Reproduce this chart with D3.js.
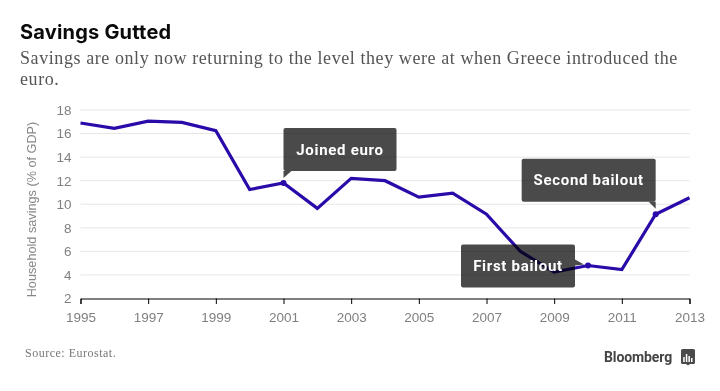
<!DOCTYPE html>
<html>
<head>
<meta charset="utf-8">
<script src="https://cdn.jsdelivr.net/npm/d3@7"></script>
<style>
  html, body { margin: 0; padding: 0; background: #fff; }
  svg { display: block; }
</style>
</head>
<body>
<div id="d3-container"></div>
<script>
const years = [1995, 1996, 1997, 1998, 1999, 2000, 2001, 2002, 2003, 2004, 2005, 2006, 2007, 2008, 2009, 2010, 2011, 2012, 2013];
const savings = [16.9, 16.45, 17.05, 16.95, 16.25, 11.25, 11.8, 9.65, 12.2, 12.0, 10.6, 10.95, 9.15, 6.0, 4.25, 4.8, 4.45, 9.15, 10.55];
const yTicks = [2, 4, 6, 8, 10, 12, 14, 16, 18];
const xTicks = [1995, 1997, 1999, 2001, 2003, 2005, 2007, 2009, 2011, 2013];
const noteLabels = ["Joined euro", "First bailout", "Second bailout"];
const noteYears = [2001, 2010, 2012];

const width = 720;
const height = 391;
const margin = { top: 110, bottom: 92.5, left: 80.5, right: 30.5 };

const sans = "Roboto, sans-serif";
const serif = "'Liberation Serif', serif";
const axisFont = "'Liberation Sans', Arial, sans-serif";

const svg = d3.select('#d3-container')
  .append('svg')
  .attr('width', width)
  .attr('height', height)
  .attr('viewBox', [0, 0, width, height]);

const x = d3.scaleLinear()
  .domain([1995, 2013])
  .range([margin.left, width - margin.right]);

const y = d3.scaleLinear()
  .domain([2, 18])
  .range([height - margin.bottom, margin.top]);

// headline
svg.append('text')
  .attr('x', 20).attr('y', 39)
  .attr('font-family', "Inter, sans-serif").attr('font-weight', 700)
  .attr('font-size', 20).attr('letter-spacing', 0.2)
  .attr('fill', '#0a0a0a')
  .text('Savings Gutted');

svg.selectAll('text.sub')
  .data(['Savings are only now returning to the level they were at when Greece introduced the', 'euro.'])
  .join('text')
  .attr('class', 'sub')
  .attr('x', 20)
  .attr('y', (d, i) => 64 + i * 20.5)
  .attr('font-family', serif).attr('font-size', 18)
  .attr('letter-spacing', 0.58)
  .attr('fill', '#555')
  .text(d => d);

// grid
svg.append('g')
  .selectAll('line')
  .data(yTicks.filter(d => d > 2))
  .join('line')
  .attr('x1', margin.left)
  .attr('x2', width - margin.right)
  .attr('y1', d => y(d))
  .attr('y2', d => y(d))
  .attr('stroke', '#e6e6e6')
  .attr('stroke-width', 1);

// axes
function yAxis(g) {
  g.attr('transform', `translate(${margin.left}, 0)`)
    .call(d3.axisLeft(y).tickValues(yTicks).tickSize(0).tickPadding(9))
    .attr('font-size', 13.5)
    .attr('font-family', axisFont)
    .call(g => g.select('.domain').remove())
    .selectAll('text').attr('fill', '#808080');
}

function xAxis(g) {
  g.attr('transform', `translate(0,${height - margin.bottom})`)
    .call(d3.axisBottom(x).tickValues(xTicks).tickFormat(d3.format('d')).tickSize(5.5).tickSizeOuter(5.5).tickPadding(8))
    .attr('font-size', 13.5)
    .attr('font-family', axisFont)
    .call(g => g.selectAll('.domain, line').attr('stroke', '#000'))
    .selectAll('text').attr('fill', '#808080');
}

svg.append('g').call(yAxis);
svg.append('g').call(xAxis);

svg.append('text')
  .attr('transform', `translate(36,209.5) rotate(-90)`)
  .attr('text-anchor', 'middle')
  .attr('font-family', axisFont).attr('font-size', 12.7)
  .attr('fill', '#888')
  .text('Household savings (% of GDP)');

// line
const line = d3.line()
  .x((d, i) => x(years[i]))
  .y(d => y(d));

svg.append('path')
  .datum(savings)
  .attr('fill', 'none')
  .attr('stroke', '#2a0aa8')
  .attr('stroke-width', 3.2)
  .attr('stroke-linejoin', 'miter')
  .attr('d', line);

svg.append('g')
  .selectAll('circle')
  .data(noteYears)
  .join('circle')
  .attr('cx', d => x(d))
  .attr('cy', d => y(savings[years.indexOf(d)]))
  .attr('r', 3)
  .attr('fill', '#2a0aa8');

// callouts, offsets from the marked point
const boxW = [113, 114, 134];
const boxH = 43;
const boxDx = [0, -127, -134];
const boxDy = [-55, -21, -55.5];
const tails = [
  (l, t, w, h) => `M${l},${t + h}L${l + 8},${t + h}L${l},${t + h + 7}Z`,
  (l, t, w, h) => `M${l + w},${t + 15}L${l + w + 9},${t + 20}L${l + w},${t + 21}Z`,
  (l, t, w, h) => `M${l + w},${t + h}L${l + w - 7},${t + h}L${l + w},${t + h + 7}Z`
];

noteLabels.forEach((label, i) => {
  const px = x(noteYears[i]);
  const py = y(savings[years.indexOf(noteYears[i])]);
  const left = px + boxDx[i];
  const top = py + boxDy[i];
  const g = svg.append('g');
  g.append('path')
    .attr('d', tails[i](left, top, boxW[i], boxH))
    .attr('fill', '#4a4a4a');
  g.append('rect')
    .attr('x', left).attr('y', top)
    .attr('width', boxW[i]).attr('height', boxH)
    .attr('rx', 2)
    .attr('fill', '#4a4a4a')
    .style('mix-blend-mode', 'multiply');
  g.append('text')
    .attr('x', left + boxW[i] / 2).attr('y', top + 26.5)
    .attr('text-anchor', 'middle')
    .attr('font-family', sans).attr('font-weight', 700)
    .attr('font-size', 15).attr('letter-spacing', 0.7)
    .attr('fill', '#fff')
    .text(label);
});

// footer
svg.append('text')
  .attr('x', 25).attr('y', 357)
  .attr('font-family', serif).attr('font-size', 12)
  .attr('letter-spacing', 0.5)
  .attr('fill', '#777')
  .text('Source: Eurostat.');

svg.append('text')
  .attr('x', 604).attr('y', 361.5)
  .attr('font-family', sans).attr('font-weight', 700)
  .attr('font-size', 14).attr('letter-spacing', -0.1)
  .attr('fill', '#444')
  .text('Bloomberg');

const logo = svg.append('g').attr('transform', 'translate(681,349)');
logo.append('path')
  .attr('d', 'M1.5,0H12.5Q14,0 14,1.5V13.5Q14,15 12.5,15H9L7,16.5L5,15H1.5Q0,15 0,13.5V1.5Q0,0 1.5,0Z')
  .attr('fill', '#4a4a4a');
logo.selectAll('rect')
  .data([5, 8, 6, 4])
  .join('rect')
  .attr('x', (d, i) => 2.2 + i * 2.6)
  .attr('y', d => 13 - d)
  .attr('width', 1.5)
  .attr('height', d => d)
  .attr('fill', '#fff');
</script>
</body>
</html>
